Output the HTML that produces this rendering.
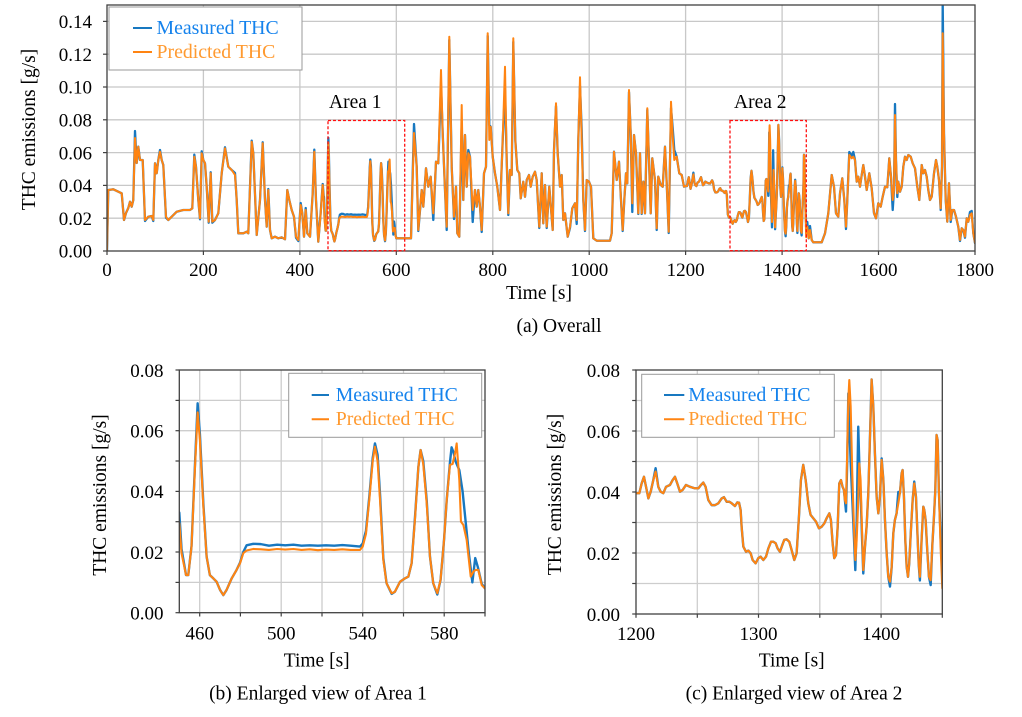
<!DOCTYPE html>
<html><head><meta charset="utf-8"><style>
html,body{margin:0;padding:0;background:#fff;}
svg{display:block;}
text{font-family:"Liberation Serif","Times New Roman",serif;fill:#000;}
</style></head><body>
<svg width="1022" height="717" viewBox="0 0 1022 717" xmlns="http://www.w3.org/2000/svg">
<defs>
<clipPath id="c1"><rect x="107" y="5" width="868" height="246"/></clipPath>
<clipPath id="c2"><rect x="179.3" y="370" width="305.7" height="242.7"/></clipPath>
<clipPath id="c3"><rect x="636" y="370" width="306.3" height="244"/></clipPath>
</defs>
<rect width="1022" height="717" fill="#fff"/>

<!-- ================= TOP CHART ================= -->
<g stroke="#c8c8c8" stroke-width="1.3">
<line x1="107" x2="975" y1="218.2" y2="218.2"/><line x1="107" x2="975" y1="185.4" y2="185.4"/>
<line x1="107" x2="975" y1="152.6" y2="152.6"/><line x1="107" x2="975" y1="119.8" y2="119.8"/>
<line x1="107" x2="975" y1="87" y2="87"/><line x1="107" x2="975" y1="54.2" y2="54.2"/>
<line x1="107" x2="975" y1="21.4" y2="21.4"/>
<line x1="203.4" x2="203.4" y1="5" y2="251"/><line x1="299.9" x2="299.9" y1="5" y2="251"/>
<line x1="396.3" x2="396.3" y1="5" y2="251"/><line x1="492.8" x2="492.8" y1="5" y2="251"/>
<line x1="589.2" x2="589.2" y1="5" y2="251"/><line x1="685.6" x2="685.6" y1="5" y2="251"/>
<line x1="782.1" x2="782.1" y1="5" y2="251"/><line x1="878.5" x2="878.5" y1="5" y2="251"/>
</g>
<g stroke="#404040" stroke-width="1.2">
<line x1="103" x2="107" y1="251" y2="251"/><line x1="103" x2="107" y1="218.2" y2="218.2"/>
<line x1="103" x2="107" y1="185.4" y2="185.4"/><line x1="103" x2="107" y1="152.6" y2="152.6"/>
<line x1="103" x2="107" y1="119.8" y2="119.8"/><line x1="103" x2="107" y1="87" y2="87"/>
<line x1="103" x2="107" y1="54.2" y2="54.2"/><line x1="103" x2="107" y1="21.4" y2="21.4"/>
<line x1="107" x2="107" y1="251" y2="255"/><line x1="203.4" x2="203.4" y1="251" y2="255"/>
<line x1="299.9" x2="299.9" y1="251" y2="255"/><line x1="396.3" x2="396.3" y1="251" y2="255"/>
<line x1="492.8" x2="492.8" y1="251" y2="255"/><line x1="589.2" x2="589.2" y1="251" y2="255"/>
<line x1="685.6" x2="685.6" y1="251" y2="255"/><line x1="782.1" x2="782.1" y1="251" y2="255"/>
<line x1="878.5" x2="878.5" y1="251" y2="255"/><line x1="975" x2="975" y1="251" y2="255"/>
</g>

<g clip-path="url(#c1)" fill="none" stroke-linejoin="round" stroke-linecap="round">
<!-- blue measured -->
<g stroke="#1878c0" stroke-width="2.3">
<polyline points="107,250.7 108.3,190 113.3,189.3 121.7,193.3 124,220 126,213 128.3,208 130,201.7 131.7,206.7 133.3,200 135,131 136.7,163 138.3,146.7 140,160 142.7,160 145,221 148.3,216.7 151.7,216 153.3,221 155,163.3 156.7,173.3 158.3,160 160,150 161.7,160 163.3,165 166,217.7 168.3,220 171.7,216.7 176.7,211.7 183.3,210 190,210 192.3,208.3 194.3,154.7 196,166.7 198.3,200 200,219.3 201.7,151.3 203.3,160 205,163.3 206.7,186.7 208.7,222.7 210.7,172.3 212.3,222.7 215,220 218.3,213.3 221.7,173.3 225,147.3 228.3,166.7 231.7,170 235,173 236.7,200 238.3,233.3 243.3,233.3 246.7,231.7 248.3,233.3 251.7,140.7 253.3,153.3 256.7,235 260,200 262.7,142.3 265,200 266.7,226.7 268.3,189 270,230 271.7,238.3 275,236.7 278.3,238.3 281.7,237.3 285,239.3 287.3,190 289.3,200 291.7,210 294,216.7 296,237.7 298.3,241 300.7,203 302.3,213.3 304,236.7 305.7,208 307.3,233.3 310,236.7 312.7,193.3 314.3,149.7 316,200 318.3,241.7 320.7,212.3 322.7,184 324,200"/>
<polyline points="396.3,238.3 411,238.3 414,124 416.7,166.7 418.3,231 421.7,190 423.3,206.7 426,168.3 428.3,186.7 430.7,176.7 433.3,220 436,161.7 438.3,163.3 441,86 442.7,133.3 445,190 446.7,230 449.3,40 451.7,166.7 454,219 456,186.7 457.3,233.3 459.3,236.7 461.7,125 463.3,200 465,135 466.7,186.7 468.3,150 470,156.7 472.7,222 475,190 476.7,206.7 478.3,190 480,206.7 481.7,232 484,173.3 486,166.7 487.7,36 489.3,125 490.7,126.7 492.7,156.7 495,173.3 497.3,186.7 500,210 502.7,140 505,90 506.7,160 508.3,215 510,170 511.7,175 513.3,42 515.3,140 517.3,170 519.3,173.3 520.7,198.3 523.3,181.7 525,196.7 526.7,180 529,175 530.7,186.7 532.7,176.7 535,171.7 536.7,180 539.3,228 541.7,173.3 543.3,223.3 545,185 546.7,228 549.3,186.7 552.7,230 554,150 556,106 557.7,153.3 560,186.7 561.7,175 563.3,220 565,213.3 567.7,236.7 570,228 572.3,208.3 575,203.3 576.7,224 578.3,140 580,86 581.7,130 583.3,200 585,231 586.7,180 589,181.7 591,186.7 593.3,238.3 596.7,240.7 610,240.7 611.7,233.3 614,151.7 616.7,180 619,161.7 621,200 622.7,231 624.3,200 626,173.3 627.3,183.3 629,92 630.7,133.3 632.3,212 634,135 636,153.3 638.3,214 640,153.3 641.7,214 643.3,181.7 645,213.3 647.3,110 649,160 650.7,213.3 652.3,158.3 655,180 656.7,230 658.3,176.7 660.7,185 662.7,186.7 665,146.7 666.7,183.3 668.7,233 671,108 672.7,128 674.3,150 676.7,156.7 679.3,173.3 681.7,175 684,186.7 685.7,186"/>
<polyline points="806,226 807.3,222 808.7,238.3 810,226 811.7,240 813.3,242.3 821.7,242.3 825,233.3 828.3,213.3 831.7,175 834,186.7 836,213.3 838.3,216.7 840,193.3 842.3,178.3 844.3,200 846,229 847.3,200 849.3,152 851.7,156 853.3,152 855,160 856.7,181.7 858.3,176.7 860,186.7 861.7,175 863.3,165 865,176.7 866.7,190 869.3,173.3 871.7,188.3 874,213.3 876,218.3 878.3,203.3 880.7,206.7 882.7,196.7 885,186.7 887.3,187.3 889.3,158.3 891,176.7 892.7,210 894,190 895,104 896,160 897.3,197 898.3,181.7 900,191.7 901.7,186.7 903.3,166.7 905,156.7 906.7,160 908.3,155 910.7,156.7 912.7,163.3 915,168.3 917.3,186.7 919.3,200 921.7,165 923.3,173.3 925,170 926.7,176.7 928.3,190 930,200 931.7,196.7 934,173.3 936,160 937.3,166.7 939,180 940.7,210 942,166.7 942.7,3 944,133.3 945.7,200 947.3,221.7 949,183.3 950.7,222 952.3,210 954,210 956,216.7 958.3,226.7 960,241 961.7,228.3 963.3,230 965,237.7 966.7,218.3 968.3,221.7 970,212 971.7,211 973.3,233.3 975,243"/>
<g transform="translate(107,251) scale(0.48222,-1640)">
<polyline vector-effect="non-scaling-stroke" points="450,0.033 451.1,0.021 453.3,0.0124 454.4,0.0124 456,0.022 457.7,0.049 459,0.069 460.1,0.059 461.8,0.036 463.4,0.0185 465,0.0124 466.7,0.0113 468.3,0.0102 470,0.0075 471.6,0.0058 473.2,0.0075 475.7,0.0113 478.1,0.0141 479.8,0.0165 481.4,0.02 483,0.0222 486.3,0.0227 490,0.0226 494,0.0221 498,0.0224 502,0.0222 506,0.0224 510,0.0221 514,0.0222 518,0.0221 522,0.0222 526,0.0221 530,0.0223 534,0.0221 538.7,0.0218 540,0.0228 541.6,0.027 543.2,0.038 544.9,0.051 546,0.0558 547.3,0.052 548.5,0.039 550.1,0.018 551.7,0.0097 554.2,0.0062 555.8,0.0069 558.3,0.0102 560.7,0.0113 562.4,0.0119 564,0.0163 565.6,0.031 567.3,0.048 568.4,0.0536 569.7,0.05 571.4,0.037 573,0.0185 574.6,0.0097 576.6,0.006 578.2,0.0108 579.9,0.024 581.2,0.037 582.8,0.0495 583.6,0.0545 584.5,0.053 585.5,0.05 587.4,0.047 589,0.04 590.5,0.03 592,0.02 593.8,0.010 595.2,0.018 596.5,0.015 598.4,0.0095 600,0.008"/>
<polyline vector-effect="non-scaling-stroke" points="1200,0.0396 1202.7,0.0396 1204.6,0.0428 1206.5,0.045 1208.2,0.0417 1210.1,0.0379 1212,0.0401 1214.1,0.0439 1216,0.0478 1218.2,0.0417 1220.1,0.0401 1222.3,0.0396 1224.5,0.0417 1227.7,0.0423 1229.9,0.0439 1231.8,0.045 1233.7,0.0428 1235.9,0.0401 1238.1,0.0407 1240.8,0.0423 1244.1,0.0417 1248.1,0.0412 1250.9,0.0412 1253,0.0423 1254.9,0.0431 1256.8,0.0417 1259,0.0374 1261.7,0.0357 1264.5,0.0357 1267.2,0.0363 1269.9,0.0379 1271.8,0.0383 1274,0.0368 1276.2,0.0368 1278.1,0.0363 1280.8,0.0354 1282.7,0.0366 1284.1,0.0365 1285.4,0.0341 1286.2,0.0286 1287.6,0.0221 1289.8,0.0204 1291.7,0.0208 1293.6,0.0199 1295.2,0.0177 1297.6,0.0166 1299.8,0.0183 1301.7,0.0188 1303.9,0.0177 1306.1,0.0188 1308,0.0215 1310.2,0.0237 1312.1,0.0237 1314,0.0232 1315.6,0.0215 1317.5,0.0204 1319.4,0.0226 1321,0.0243 1322.9,0.0245 1325.1,0.0237 1327,0.021 1329.2,0.0177 1331.1,0.0199 1333,0.0319 1334.6,0.0439 1336.5,0.0489 1338.5,0.0439 1340.6,0.0363 1342.5,0.0325 1344.7,0.0314 1346.9,0.0303 1349.3,0.0281 1351.5,0.0286 1353.7,0.0297 1355.6,0.0314 1357.8,0.033 1359.1,0.0308 1360.5,0.0232 1361.8,0.0183 1363.2,0.0193 1364.6,0.0286 1365.9,0.0428 1367.3,0.0439 1368.6,0.0417 1369.7,0.0407 1370.5,0.0374 1371.4,0.0336 1372.4,0.05 1373.3,0.0723 1374.1,0.062 1375.2,0.05 1376.5,0.038 1377.9,0.025 1379,0.0144 1380.1,0.03 1381.4,0.0614 1382.2,0.05 1383.3,0.04 1384.4,0.026 1385.5,0.0133 1386.9,0.0221 1388.2,0.0286 1389.6,0.0396 1390.9,0.057 1392.3,0.0769 1393.7,0.068 1395,0.0527 1396.4,0.0385 1397.8,0.033 1399.1,0.0385 1400.5,0.051 1401.9,0.0439 1403.2,0.0308 1404.6,0.0199 1405.9,0.0122 1407.3,0.009 1408.7,0.0155 1410,0.0264 1411.3,0.0308 1412.7,0.033 1414.1,0.04 1415.4,0.0396 1416.8,0.0461 1417.6,0.0472 1418.7,0.0385 1419.8,0.0243 1420.9,0.0155 1422,0.0122 1423,0.0166 1424.4,0.0275 1425.8,0.0374 1427.1,0.0434 1428.5,0.0385 1429.6,0.0275 1430.7,0.0166 1431.7,0.011 1433.1,0.0243 1434.5,0.0352 1435.3,0.0341 1436.4,0.0308 1437.7,0.021 1439.1,0.0122 1440.5,0.0095 1441.8,0.0221 1443.2,0.0319 1444.3,0.0407 1445.3,0.0587 1446.2,0.057 1447.2,0.0407 1448.6,0.025 1450,0.0155"/>
</g>
</g>
<!-- orange predicted -->
<g stroke="#ff8412" stroke-width="2">
<polyline points="107,250.7 108.3,190 113.3,189.3 121.7,193.3 124,220 126,213 128.3,208 130,201.7 131.7,206.7 133.3,200 135,138 136.7,163 138.3,146.7 140,160 142.7,160 145,220 148.3,216.7 151.7,216 153.3,220 155,163.3 156.7,173.3 158.3,160 160,151.7 161.7,160 163.3,165 166,216.7 168.3,220 171.7,216.7 176.7,211.7 183.3,210 190,210 192.3,208.3 194.3,156.7 196,166.7 198.3,200 200,218.3 201.7,153.3 203.3,160 205,163.3 206.7,186.7 208.7,221.7 210.7,173.3 212.3,221.7 215,220 218.3,213.3 221.7,173.3 225,148.3 228.3,166.7 231.7,170 235,175 236.7,200 238.3,233.3 243.3,233.3 246.7,231.7 248.3,233.3 251.7,141.7 253.3,153.3 256.7,235 260,200 262.7,143.3 265,200 266.7,226.7 268.3,190 270,230 271.7,238.3 275,236.7 278.3,238.3 281.7,237.3 285,239.3 287.3,190 289.3,200 291.7,210 294,216.7 296,236.7 298.3,240 300.7,205 302.3,213.3 304,236.7 305.7,210 307.3,233.3 310,236.7 312.7,193.3 314.3,151.7 316,200 318.3,241.7 320.7,213.3 322.7,185 324,203"/>
<polyline points="396.3,238.3 411,238.3 414,133 416.7,166.7 418.3,230 421.7,190 423.3,206.7 426,168.3 428.3,186.7 430.7,176.7 433.3,213.3 436,161.7 438.3,163.3 441,70 442.7,133.3 445,190 446.7,226.7 449.3,36.7 451.7,166.7 454,216.7 456,186.7 457.3,233.3 459.3,236.7 461.7,105 463.3,200 465,135 466.7,186.7 468.3,153.3 470,156.7 472.7,210 475,190 476.7,206.7 478.3,190 480,206.7 481.7,230 484,173.3 486,166.7 487.7,33.3 489.3,140 490.7,126.7 492.7,156.7 495,173.3 497.3,186.7 500,210 502.7,140 505,66.7 506.7,160 508.3,213.3 510,170 511.7,175 513.3,38.3 515.3,140 517.3,170 519.3,173.3 520.7,198.3 523.3,181.7 525,196.7 526.7,180 529,175 530.7,186.7 532.7,176.7 535,171.7 536.7,180 539.3,226.7 541.7,173.3 543.3,223.3 545,185 546.7,226.7 549.3,186.7 552.7,230 554,150 556,103.3 557.7,153.3 560,186.7 561.7,175 563.3,220 565,213.3 567.7,236.7 570,226.7 572.3,208.3 575,203.3 576.7,220 578.3,140 580,77.3 581.7,140 583.3,200 585,230 586.7,180 589,181.7 591,186.7 593.3,238.3 596.7,240.7 610,240.7 611.7,233.3 614,151.7 616.7,180 619,161.7 621,200 622.7,230 624.3,200 626,173.3 627.3,183.3 629,90 630.7,133.3 632.3,203.3 634,135 636,153.3 638.3,213.3 640,153.3 641.7,213.3 643.3,181.7 645,213.3 647.3,108.3 649,160 650.7,213.3 652.3,158.3 655,180 656.7,228.3 658.3,176.7 660.7,185 662.7,186.7 665,146.7 666.7,183.3 668.7,231.7 671,101.7 672.7,136.7 674.3,160 676.7,156.7 679.3,173.3 681.7,175 684,186.7 685.7,186"/>
<polyline points="806,233.3 807.3,226.7 808.7,238.3 810,230 811.7,240 813.3,242.3 821.7,242.3 825,233.3 828.3,213.3 831.7,175 834,186.7 836,213.3 838.3,216.7 840,193.3 842.3,178.3 844.3,200 846,226.7 847.3,200 849.3,155 851.7,158.3 853.3,156.7 855,160 856.7,181.7 858.3,176.7 860,186.7 861.7,175 863.3,165 865,176.7 866.7,190 869.3,173.3 871.7,188.3 874,213.3 876,218.3 878.3,203.3 880.7,206.7 882.7,196.7 885,186.7 887.3,187.3 889.3,158.3 891,176.7 892.7,200 894,190 895,115 896,160 897.3,193.3 898.3,181.7 900,191.7 901.7,186.7 903.3,166.7 905,156.7 906.7,160 908.3,155 910.7,156.7 912.7,163.3 915,168.3 917.3,186.7 919.3,200 921.7,165 923.3,173.3 925,170 926.7,176.7 928.3,190 930,200 931.7,196.7 934,173.3 936,160 937.3,166.7 939,180 940.7,208.3 942,166.7 942.7,33.3 944,133.3 945.7,200 947.3,221.7 949,183.3 950.7,220 952.3,210 954,210 956,216.7 958.3,226.7 960,240 961.7,228.3 963.3,230 965,236.7 966.7,218.3 968.3,221.7 970,215 971.7,213.3 973.3,233.3 975,243"/>
<g transform="translate(107,251) scale(0.48222,-1640)">
<polyline vector-effect="non-scaling-stroke" points="450,0.0295 451.1,0.0196 453.3,0.0124 454.4,0.0124 456,0.0218 457.7,0.048 459,0.066 460.1,0.057 461.8,0.035 463.4,0.0185 465,0.0124 466.7,0.0113 468.3,0.0102 470,0.0075 471.6,0.0058 473.2,0.0075 475.7,0.0113 478.1,0.0141 479.8,0.0163 481.4,0.0196 483,0.0205 486.3,0.021 490,0.0209 494,0.0207 498,0.021 502,0.0208 506,0.021 510,0.0207 514,0.0209 518,0.0206 522,0.0208 526,0.0207 530,0.0209 534,0.0207 538.7,0.0207 540,0.0218 541.6,0.026 543.2,0.037 544.9,0.05 546,0.0547 547.3,0.05 548.5,0.037 550.1,0.0174 551.7,0.0097 554.2,0.0064 555.8,0.0069 558.3,0.0102 560.7,0.0113 562.4,0.0119 564,0.0163 565.6,0.0305 567.3,0.048 568.4,0.0536 569.7,0.049 571.4,0.036 573,0.0185 574.6,0.0097 576.6,0.0064 578.2,0.0108 579.9,0.024 581.2,0.037 582.8,0.0487 584.1,0.049 585.3,0.0525 586.1,0.0558 587.4,0.0437 588.2,0.03 589.4,0.0289 591,0.024 593,0.0119 594.3,0.0135 595.4,0.0141 596.7,0.0141 598.4,0.0091 600,0.008"/>
<polyline vector-effect="non-scaling-stroke" points="1200,0.0396 1202.7,0.0396 1204.6,0.0428 1206.5,0.045 1208.2,0.0417 1210.1,0.0379 1212,0.0401 1214.1,0.0439 1216,0.0467 1218.2,0.0417 1220.1,0.0401 1222.3,0.0396 1224.5,0.0417 1227.7,0.0423 1229.9,0.0439 1231.8,0.045 1233.7,0.0428 1235.9,0.0401 1238.1,0.0407 1240.8,0.0423 1244.1,0.0417 1248.1,0.0412 1250.9,0.0412 1253,0.0423 1254.9,0.0431 1256.8,0.0417 1259,0.0374 1261.7,0.0357 1264.5,0.0357 1267.2,0.0363 1269.9,0.0379 1271.8,0.0383 1274,0.0368 1276.2,0.0368 1278.1,0.0363 1280.8,0.0354 1282.7,0.0366 1284.1,0.0365 1285.4,0.0341 1286.2,0.0286 1287.6,0.0221 1289.8,0.0204 1291.7,0.0208 1293.6,0.0199 1295.2,0.0177 1297.6,0.0166 1299.8,0.0183 1301.7,0.0188 1303.9,0.0177 1306.1,0.0188 1308,0.0215 1310.2,0.0237 1312.1,0.0237 1314,0.0232 1315.6,0.0215 1317.5,0.0204 1319.4,0.0226 1321,0.0243 1322.9,0.0245 1325.1,0.0237 1327,0.021 1329.2,0.0177 1331.1,0.0199 1333,0.0319 1334.6,0.0439 1336.5,0.0489 1338.5,0.0439 1340.6,0.0363 1342.5,0.0325 1344.7,0.0314 1346.9,0.0303 1349.3,0.0281 1351.5,0.0286 1353.7,0.0297 1355.6,0.0314 1357.8,0.033 1359.1,0.0308 1360.5,0.0232 1361.8,0.0183 1363.2,0.0193 1364.6,0.0286 1365.9,0.0428 1367.3,0.0439 1368.6,0.0417 1369.7,0.0407 1370.5,0.0374 1371.4,0.0363 1372.4,0.0538 1373.3,0.0702 1374.1,0.0767 1375.2,0.068 1376.5,0.0461 1377.9,0.0286 1379,0.0177 1380.1,0.0243 1381.4,0.0374 1382.2,0.0494 1383.3,0.0439 1384.4,0.0286 1385.5,0.0144 1386.9,0.0221 1388.2,0.0286 1389.6,0.0396 1390.9,0.057 1392.3,0.0769 1393.7,0.068 1395,0.0527 1396.4,0.0385 1397.8,0.033 1399.1,0.0385 1400.5,0.0505 1401.9,0.0439 1403.2,0.0308 1404.6,0.0199 1405.9,0.0122 1407.3,0.0106 1408.7,0.0155 1410,0.0264 1411.3,0.0308 1412.7,0.033 1414.1,0.0363 1415.4,0.0396 1416.8,0.0461 1417.6,0.0472 1418.7,0.0385 1419.8,0.0243 1420.9,0.0155 1422,0.0122 1423,0.0166 1424.4,0.0275 1425.8,0.0374 1427.1,0.0428 1428.5,0.0385 1429.6,0.0275 1430.7,0.0166 1431.7,0.0122 1433.1,0.0243 1434.5,0.0352 1435.3,0.0341 1436.4,0.0308 1437.7,0.021 1439.1,0.0122 1440.5,0.0111 1441.8,0.0221 1443.2,0.0319 1444.3,0.0407 1445.3,0.0587 1446.2,0.057 1447.2,0.0407 1448.6,0.0221 1450,0.0084"/>
</g>
</g>
</g>
<rect x="107" y="5" width="868" height="246" fill="none" stroke="#404040" stroke-width="1.3"/>
<!-- dashed area boxes -->
<g fill="none" stroke="#ff1010" stroke-width="1.3" stroke-dasharray="3,2">
<rect x="328" y="120.5" width="76.7" height="130.2"/>
<rect x="730" y="120.5" width="76.3" height="130.2"/>
</g>
<text x="329" y="108" font-size="19.5">Area 1</text>
<text x="734" y="108" font-size="19.5">Area 2</text>
<!-- legend top -->
<rect x="109" y="7" width="193" height="63" fill="#fff" stroke="#9a9a9a" stroke-width="1"/>
<line x1="133" x2="152" y1="28" y2="28" stroke="#1878c0" stroke-width="2"/>
<line x1="133" x2="152" y1="52" y2="52" stroke="#ff8412" stroke-width="2"/>
<text x="156.5" y="34" font-size="19.8" style="fill:#1482ec">Measured THC</text>
<text x="156.5" y="58" font-size="19.8" style="fill:#ff9a30">Predicted THC</text>
<!-- top tick labels -->
<g font-size="19" text-anchor="end">
<text x="92" y="257.7">0.00</text><text x="92" y="224.9">0.02</text><text x="92" y="192.1">0.04</text>
<text x="92" y="159.3">0.06</text><text x="92" y="126.5">0.08</text><text x="92" y="93.7">0.10</text>
<text x="92" y="60.9">0.12</text><text x="92" y="28.1">0.14</text>
</g>
<g font-size="19" text-anchor="middle">
<text x="107" y="276">0</text><text x="203.4" y="276">200</text><text x="299.9" y="276">400</text>
<text x="396.3" y="276">600</text><text x="492.8" y="276">800</text><text x="589.2" y="276">1000</text>
<text x="685.6" y="276">1200</text><text x="782.1" y="276">1400</text><text x="878.5" y="276">1600</text>
<text x="975" y="276">1800</text>
</g>
<text x="539" y="299" font-size="19.5" text-anchor="middle">Time [s]</text>
<text x="559" y="332" font-size="19.5" text-anchor="middle">(a) Overall</text>
<text transform="translate(35,129.5) rotate(-90)" font-size="19.5" text-anchor="middle">THC emissions [g/s]</text>

<!-- ================= CHART B ================= -->
<g stroke="#cdcdcd" stroke-width="1.3">
<line x1="179.3" x2="485" y1="582.4" y2="582.4"/><line x1="179.3" x2="485" y1="552" y2="552"/>
<line x1="179.3" x2="485" y1="521.7" y2="521.7"/><line x1="179.3" x2="485" y1="491.4" y2="491.4"/>
<line x1="179.3" x2="485" y1="461" y2="461"/><line x1="179.3" x2="485" y1="430.7" y2="430.7"/>
<line x1="179.3" x2="485" y1="400.4" y2="400.4"/>
<line x1="199.7" x2="199.7" y1="370" y2="612.7"/><line x1="240.4" x2="240.4" y1="370" y2="612.7"/>
<line x1="281.2" x2="281.2" y1="370" y2="612.7"/><line x1="322" x2="322" y1="370" y2="612.7"/>
<line x1="362.7" x2="362.7" y1="370" y2="612.7"/><line x1="403.5" x2="403.5" y1="370" y2="612.7"/>
<line x1="444.2" x2="444.2" y1="370" y2="612.7"/>
</g>
<g stroke="#404040" stroke-width="1.2">
<line x1="175.5" x2="179.3" y1="612.7" y2="612.7"/><line x1="175.5" x2="179.3" y1="582.4" y2="582.4"/>
<line x1="175.5" x2="179.3" y1="552" y2="552"/><line x1="175.5" x2="179.3" y1="521.7" y2="521.7"/>
<line x1="175.5" x2="179.3" y1="491.4" y2="491.4"/><line x1="175.5" x2="179.3" y1="461" y2="461"/>
<line x1="175.5" x2="179.3" y1="430.7" y2="430.7"/><line x1="175.5" x2="179.3" y1="400.4" y2="400.4"/>
<line x1="175.5" x2="179.3" y1="370" y2="370"/>
<line x1="199.7" x2="199.7" y1="612.7" y2="616.5"/><line x1="240.4" x2="240.4" y1="612.7" y2="616.5"/>
<line x1="281.2" x2="281.2" y1="612.7" y2="616.5"/><line x1="322" x2="322" y1="612.7" y2="616.5"/>
<line x1="362.7" x2="362.7" y1="612.7" y2="616.5"/><line x1="403.5" x2="403.5" y1="612.7" y2="616.5"/>
<line x1="444.2" x2="444.2" y1="612.7" y2="616.5"/><line x1="485" x2="485" y1="612.7" y2="616.5"/>
</g>
<g clip-path="url(#c2)" fill="none" stroke-linejoin="round" stroke-linecap="round">
<g transform="translate(-737.8,612.7) scale(2.038,-3034)">
<polyline vector-effect="non-scaling-stroke" stroke="#1878c0" stroke-width="2.4" points="450,0.033 451.1,0.021 453.3,0.0124 454.4,0.0124 456,0.022 457.7,0.049 459,0.069 460.1,0.059 461.8,0.036 463.4,0.0185 465,0.0124 466.7,0.0113 468.3,0.0102 470,0.0075 471.6,0.0058 473.2,0.0075 475.7,0.0113 478.1,0.0141 479.8,0.0165 481.4,0.02 483,0.0222 486.3,0.0227 490,0.0226 494,0.0221 498,0.0224 502,0.0222 506,0.0224 510,0.0221 514,0.0222 518,0.0221 522,0.0222 526,0.0221 530,0.0223 534,0.0221 538.7,0.0218 540,0.0228 541.6,0.027 543.2,0.038 544.9,0.051 546,0.0558 547.3,0.052 548.5,0.039 550.1,0.018 551.7,0.0097 554.2,0.0062 555.8,0.0069 558.3,0.0102 560.7,0.0113 562.4,0.0119 564,0.0163 565.6,0.031 567.3,0.048 568.4,0.0536 569.7,0.05 571.4,0.037 573,0.0185 574.6,0.0097 576.6,0.006 578.2,0.0108 579.9,0.024 581.2,0.037 582.8,0.0495 583.6,0.0545 584.5,0.053 585.5,0.05 587.4,0.047 589,0.04 590.5,0.03 592,0.02 593.8,0.010 595.2,0.018 596.5,0.015 598.4,0.0095 600,0.008"/>
<polyline vector-effect="non-scaling-stroke" stroke="#ff8412" stroke-width="2.1" points="450,0.0295 451.1,0.0196 453.3,0.0124 454.4,0.0124 456,0.0218 457.7,0.048 459,0.066 460.1,0.057 461.8,0.035 463.4,0.0185 465,0.0124 466.7,0.0113 468.3,0.0102 470,0.0075 471.6,0.0058 473.2,0.0075 475.7,0.0113 478.1,0.0141 479.8,0.0163 481.4,0.0196 483,0.0205 486.3,0.021 490,0.0209 494,0.0207 498,0.021 502,0.0208 506,0.021 510,0.0207 514,0.0209 518,0.0206 522,0.0208 526,0.0207 530,0.0209 534,0.0207 538.7,0.0207 540,0.0218 541.6,0.026 543.2,0.037 544.9,0.05 546,0.0547 547.3,0.05 548.5,0.037 550.1,0.0174 551.7,0.0097 554.2,0.0064 555.8,0.0069 558.3,0.0102 560.7,0.0113 562.4,0.0119 564,0.0163 565.6,0.0305 567.3,0.048 568.4,0.0536 569.7,0.049 571.4,0.036 573,0.0185 574.6,0.0097 576.6,0.0064 578.2,0.0108 579.9,0.024 581.2,0.037 582.8,0.0487 584.1,0.049 585.3,0.0525 586.1,0.0558 587.4,0.0437 588.2,0.03 589.4,0.0289 591,0.024 593,0.0119 594.3,0.0135 595.4,0.0141 596.7,0.0141 598.4,0.0091 600,0.008"/>
</g>
</g>
<rect x="179.3" y="370" width="305.7" height="242.7" fill="none" stroke="#404040" stroke-width="1.3"/>
<rect x="288.7" y="373.3" width="193" height="64" fill="#fff" stroke="#9a9a9a" stroke-width="1"/>
<line x1="311.7" x2="329" y1="395" y2="395" stroke="#1878c0" stroke-width="2"/>
<line x1="311.7" x2="329" y1="419.3" y2="419.3" stroke="#ff8412" stroke-width="2"/>
<text x="335.7" y="401" font-size="19.8" style="fill:#1482ec">Measured THC</text>
<text x="335.7" y="425" font-size="19.8" style="fill:#ff9a30">Predicted THC</text>
<g font-size="19" text-anchor="end">
<text x="163.5" y="619.5">0.00</text><text x="163.5" y="558.8">0.02</text><text x="163.5" y="498.2">0.04</text>
<text x="163.5" y="437.5">0.06</text><text x="163.5" y="376.8">0.08</text>
</g>
<g font-size="19" text-anchor="middle">
<text x="199.7" y="639.5">460</text><text x="281.2" y="639.5">500</text>
<text x="362.7" y="639.5">540</text><text x="444.2" y="639.5">580</text>
</g>
<text x="316.7" y="666.7" font-size="19.5" text-anchor="middle">Time [s]</text>
<text x="318" y="699.3" font-size="19.5" text-anchor="middle">(b) Enlarged view of Area 1</text>
<text transform="translate(106,495) rotate(-90)" font-size="19.5" text-anchor="middle">THC emissions [g/s]</text>

<!-- ================= CHART C ================= -->
<g stroke="#cdcdcd" stroke-width="1.3">
<line x1="636" x2="942.3" y1="583.5" y2="583.5"/><line x1="636" x2="942.3" y1="553" y2="553"/>
<line x1="636" x2="942.3" y1="522.5" y2="522.5"/><line x1="636" x2="942.3" y1="492" y2="492"/>
<line x1="636" x2="942.3" y1="461.5" y2="461.5"/><line x1="636" x2="942.3" y1="431" y2="431"/>
<line x1="636" x2="942.3" y1="400.5" y2="400.5"/>
<line x1="697.3" x2="697.3" y1="370" y2="614"/><line x1="758.5" x2="758.5" y1="370" y2="614"/>
<line x1="819.8" x2="819.8" y1="370" y2="614"/><line x1="881.1" x2="881.1" y1="370" y2="614"/>
</g>
<g stroke="#404040" stroke-width="1.2">
<line x1="632.2" x2="636" y1="614" y2="614"/><line x1="632.2" x2="636" y1="583.5" y2="583.5"/>
<line x1="632.2" x2="636" y1="553" y2="553"/><line x1="632.2" x2="636" y1="522.5" y2="522.5"/>
<line x1="632.2" x2="636" y1="492" y2="492"/><line x1="632.2" x2="636" y1="461.5" y2="461.5"/>
<line x1="632.2" x2="636" y1="431" y2="431"/><line x1="632.2" x2="636" y1="400.5" y2="400.5"/>
<line x1="632.2" x2="636" y1="370" y2="370"/>
<line x1="636" x2="636" y1="614" y2="617.8"/><line x1="697.3" x2="697.3" y1="614" y2="617.8"/>
<line x1="758.5" x2="758.5" y1="614" y2="617.8"/><line x1="819.8" x2="819.8" y1="614" y2="617.8"/>
<line x1="881.1" x2="881.1" y1="614" y2="617.8"/><line x1="942.3" x2="942.3" y1="614" y2="617.8"/>
</g>
<g clip-path="url(#c3)" fill="none" stroke-linejoin="round" stroke-linecap="round">
<g transform="translate(-834.24,614) scale(1.2252,-3050)">
<polyline vector-effect="non-scaling-stroke" stroke="#1878c0" stroke-width="2.4" points="1200,0.0396 1202.7,0.0396 1204.6,0.0428 1206.5,0.045 1208.2,0.0417 1210.1,0.0379 1212,0.0401 1214.1,0.0439 1216,0.0478 1218.2,0.0417 1220.1,0.0401 1222.3,0.0396 1224.5,0.0417 1227.7,0.0423 1229.9,0.0439 1231.8,0.045 1233.7,0.0428 1235.9,0.0401 1238.1,0.0407 1240.8,0.0423 1244.1,0.0417 1248.1,0.0412 1250.9,0.0412 1253,0.0423 1254.9,0.0431 1256.8,0.0417 1259,0.0374 1261.7,0.0357 1264.5,0.0357 1267.2,0.0363 1269.9,0.0379 1271.8,0.0383 1274,0.0368 1276.2,0.0368 1278.1,0.0363 1280.8,0.0354 1282.7,0.0366 1284.1,0.0365 1285.4,0.0341 1286.2,0.0286 1287.6,0.0221 1289.8,0.0204 1291.7,0.0208 1293.6,0.0199 1295.2,0.0177 1297.6,0.0166 1299.8,0.0183 1301.7,0.0188 1303.9,0.0177 1306.1,0.0188 1308,0.0215 1310.2,0.0237 1312.1,0.0237 1314,0.0232 1315.6,0.0215 1317.5,0.0204 1319.4,0.0226 1321,0.0243 1322.9,0.0245 1325.1,0.0237 1327,0.021 1329.2,0.0177 1331.1,0.0199 1333,0.0319 1334.6,0.0439 1336.5,0.0489 1338.5,0.0439 1340.6,0.0363 1342.5,0.0325 1344.7,0.0314 1346.9,0.0303 1349.3,0.0281 1351.5,0.0286 1353.7,0.0297 1355.6,0.0314 1357.8,0.033 1359.1,0.0308 1360.5,0.0232 1361.8,0.0183 1363.2,0.0193 1364.6,0.0286 1365.9,0.0428 1367.3,0.0439 1368.6,0.0417 1369.7,0.0407 1370.5,0.0374 1371.4,0.0336 1372.4,0.05 1373.3,0.0723 1374.1,0.062 1375.2,0.05 1376.5,0.038 1377.9,0.025 1379,0.0144 1380.1,0.03 1381.4,0.0614 1382.2,0.05 1383.3,0.04 1384.4,0.026 1385.5,0.0133 1386.9,0.0221 1388.2,0.0286 1389.6,0.0396 1390.9,0.057 1392.3,0.0769 1393.7,0.068 1395,0.0527 1396.4,0.0385 1397.8,0.033 1399.1,0.0385 1400.5,0.051 1401.9,0.0439 1403.2,0.0308 1404.6,0.0199 1405.9,0.0122 1407.3,0.009 1408.7,0.0155 1410,0.0264 1411.3,0.0308 1412.7,0.033 1414.1,0.04 1415.4,0.0396 1416.8,0.0461 1417.6,0.0472 1418.7,0.0385 1419.8,0.0243 1420.9,0.0155 1422,0.0122 1423,0.0166 1424.4,0.0275 1425.8,0.0374 1427.1,0.0434 1428.5,0.0385 1429.6,0.0275 1430.7,0.0166 1431.7,0.011 1433.1,0.0243 1434.5,0.0352 1435.3,0.0341 1436.4,0.0308 1437.7,0.021 1439.1,0.0122 1440.5,0.0095 1441.8,0.0221 1443.2,0.0319 1444.3,0.0407 1445.3,0.0587 1446.2,0.057 1447.2,0.0407 1448.6,0.025 1450,0.0155"/>
<polyline vector-effect="non-scaling-stroke" stroke="#ff8412" stroke-width="2.1" points="1200,0.0396 1202.7,0.0396 1204.6,0.0428 1206.5,0.045 1208.2,0.0417 1210.1,0.0379 1212,0.0401 1214.1,0.0439 1216,0.0467 1218.2,0.0417 1220.1,0.0401 1222.3,0.0396 1224.5,0.0417 1227.7,0.0423 1229.9,0.0439 1231.8,0.045 1233.7,0.0428 1235.9,0.0401 1238.1,0.0407 1240.8,0.0423 1244.1,0.0417 1248.1,0.0412 1250.9,0.0412 1253,0.0423 1254.9,0.0431 1256.8,0.0417 1259,0.0374 1261.7,0.0357 1264.5,0.0357 1267.2,0.0363 1269.9,0.0379 1271.8,0.0383 1274,0.0368 1276.2,0.0368 1278.1,0.0363 1280.8,0.0354 1282.7,0.0366 1284.1,0.0365 1285.4,0.0341 1286.2,0.0286 1287.6,0.0221 1289.8,0.0204 1291.7,0.0208 1293.6,0.0199 1295.2,0.0177 1297.6,0.0166 1299.8,0.0183 1301.7,0.0188 1303.9,0.0177 1306.1,0.0188 1308,0.0215 1310.2,0.0237 1312.1,0.0237 1314,0.0232 1315.6,0.0215 1317.5,0.0204 1319.4,0.0226 1321,0.0243 1322.9,0.0245 1325.1,0.0237 1327,0.021 1329.2,0.0177 1331.1,0.0199 1333,0.0319 1334.6,0.0439 1336.5,0.0489 1338.5,0.0439 1340.6,0.0363 1342.5,0.0325 1344.7,0.0314 1346.9,0.0303 1349.3,0.0281 1351.5,0.0286 1353.7,0.0297 1355.6,0.0314 1357.8,0.033 1359.1,0.0308 1360.5,0.0232 1361.8,0.0183 1363.2,0.0193 1364.6,0.0286 1365.9,0.0428 1367.3,0.0439 1368.6,0.0417 1369.7,0.0407 1370.5,0.0374 1371.4,0.0363 1372.4,0.0538 1373.3,0.0702 1374.1,0.0767 1375.2,0.068 1376.5,0.0461 1377.9,0.0286 1379,0.0177 1380.1,0.0243 1381.4,0.0374 1382.2,0.0494 1383.3,0.0439 1384.4,0.0286 1385.5,0.0144 1386.9,0.0221 1388.2,0.0286 1389.6,0.0396 1390.9,0.057 1392.3,0.0769 1393.7,0.068 1395,0.0527 1396.4,0.0385 1397.8,0.033 1399.1,0.0385 1400.5,0.0505 1401.9,0.0439 1403.2,0.0308 1404.6,0.0199 1405.9,0.0122 1407.3,0.0106 1408.7,0.0155 1410,0.0264 1411.3,0.0308 1412.7,0.033 1414.1,0.0363 1415.4,0.0396 1416.8,0.0461 1417.6,0.0472 1418.7,0.0385 1419.8,0.0243 1420.9,0.0155 1422,0.0122 1423,0.0166 1424.4,0.0275 1425.8,0.0374 1427.1,0.0428 1428.5,0.0385 1429.6,0.0275 1430.7,0.0166 1431.7,0.0122 1433.1,0.0243 1434.5,0.0352 1435.3,0.0341 1436.4,0.0308 1437.7,0.021 1439.1,0.0122 1440.5,0.0111 1441.8,0.0221 1443.2,0.0319 1444.3,0.0407 1445.3,0.0587 1446.2,0.057 1447.2,0.0407 1448.6,0.0221 1450,0.0084"/>
</g>
</g>
<rect x="636" y="370" width="306.3" height="244" fill="none" stroke="#404040" stroke-width="1.3"/>
<rect x="641.7" y="374.3" width="192.6" height="63" fill="#fff" stroke="#9a9a9a" stroke-width="1"/>
<line x1="664" x2="684.3" y1="395" y2="395" stroke="#1878c0" stroke-width="2"/>
<line x1="664" x2="684.3" y1="419.3" y2="419.3" stroke="#ff8412" stroke-width="2"/>
<text x="688.3" y="401" font-size="19.8" style="fill:#1482ec">Measured THC</text>
<text x="688.3" y="425" font-size="19.8" style="fill:#ff9a30">Predicted THC</text>
<g font-size="19" text-anchor="end">
<text x="620" y="620.8">0.00</text><text x="620" y="559.8">0.02</text><text x="620" y="498.8">0.04</text>
<text x="620" y="437.8">0.06</text><text x="620" y="376.8">0.08</text>
</g>
<g font-size="19" text-anchor="middle">
<text x="636" y="640">1200</text><text x="758.5" y="640">1300</text><text x="881.1" y="640">1400</text>
</g>
<text x="791.7" y="666.7" font-size="19.5" text-anchor="middle">Time [s]</text>
<text x="794" y="699.3" font-size="19.5" text-anchor="middle">(c) Enlarged view of Area 2</text>
<text transform="translate(561,494.5) rotate(-90)" font-size="19.5" text-anchor="middle">THC emissions [g/s]</text>
</svg>
</body></html>
